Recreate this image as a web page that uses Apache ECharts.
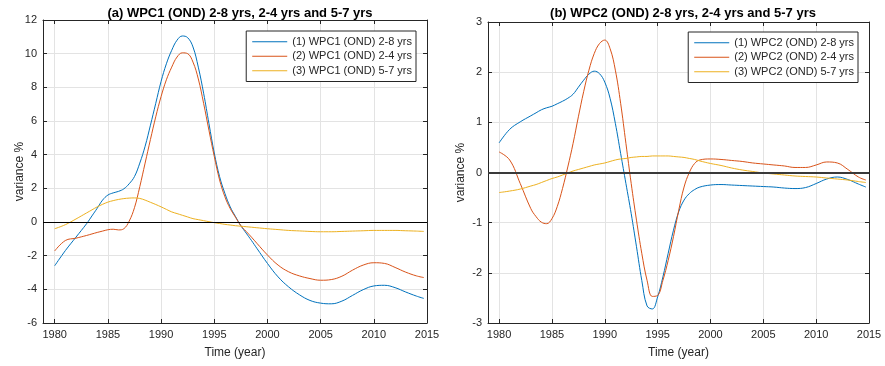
<!DOCTYPE html>
<html>
<head>
<meta charset="utf-8">
<script src="https://cdn.jsdelivr.net/npm/echarts@6/dist/echarts.min.js"></script>
<style>
  html, body { margin: 0; padding: 0; background: #fff; }
  #chart { width: 885px; height: 366px; }
</style>
</head>
<body>
<div id="chart"></div>
<script>
// sample years: yearly at the ends, half-yearly through the big swings
const years = [1980, 1981, 1982,
  1983, 1983.5, 1984, 1984.5, 1985, 1985.5, 1986, 1986.5, 1987, 1987.5,
  1988, 1988.5, 1989, 1989.5, 1990, 1990.5, 1991, 1991.5, 1992, 1992.5,
  1993, 1993.5, 1994, 1994.5, 1995, 1995.5, 1996, 1996.5, 1997, 1997.5,
  1998, 1998.5, 1999,
  2000, 2001, 2002, 2003, 2004, 2005, 2006, 2007, 2008, 2009,
  2010, 2011, 2012, 2013, 2014, 2014.7]
const xTicks = [1980, 1985, 1990, 1995, 2000, 2005, 2010, 2015]

// (a) WPC1
const wpc1_28 = [-2.6, -1.7, -0.9,
  -0.1, 0.36, 0.82, 1.3, 1.6, 1.73, 1.82, 1.97, 2.27, 2.7,
  3.5, 4.5, 5.75, 7.05, 8.35, 9.4, 10.2, 10.8, 11.05, 10.95,
  10.4, 9.2, 7.65, 5.85, 4.1, 2.7, 1.7, 0.9, 0.32, -0.22,
  -0.66, -1.1, -1.56,
  -2.46, -3.26, -3.86, -4.32, -4.66, -4.82, -4.86, -4.7, -4.36, -4.02,
  -3.8, -3.76, -3.9, -4.16, -4.4, -4.54]
const wpc1_24 = [-1.72, -1.1, -0.96,
  -0.8, -0.71, -0.62, -0.54, -0.46, -0.43, -0.47, -0.4, 0.05, 0.85,
  2.1, 3.5, 4.9, 6.25, 7.45, 8.45, 9.2, 9.8, 10.05, 10.0,
  9.5, 8.5, 7.05, 5.45, 3.9, 2.5, 1.5, 0.8, 0.28, -0.22,
  -0.56, -0.9, -1.26,
  -1.96, -2.56, -2.96, -3.2, -3.36, -3.46, -3.42, -3.22, -2.86, -2.56,
  -2.42, -2.46, -2.7, -2.98, -3.2, -3.3]
const wpc1_57 = [-0.4, -0.16, 0.18,
  0.54, 0.72, 0.9, 1.05, 1.18, 1.27, 1.34, 1.39, 1.42, 1.43,
  1.4, 1.3, 1.17, 1.04, 0.9, 0.75, 0.6, 0.5, 0.4, 0.3,
  0.2, 0.14, 0.08, 0.02, -0.04, -0.09, -0.14, -0.18, -0.22, -0.25,
  -0.28, -0.31, -0.34,
  -0.4, -0.45, -0.5, -0.53, -0.56, -0.58, -0.58, -0.56, -0.54, -0.52,
  -0.5, -0.5, -0.5, -0.52, -0.54, -0.56]

// (b) WPC2
const wpc2_28 = [0.59, 0.86, 1.01,
  1.13, 1.19, 1.25, 1.29, 1.32, 1.37, 1.42, 1.48, 1.56, 1.7,
  1.84, 1.96, 2.02, 1.97, 1.8, 1.48, 0.98, 0.38, -0.22, -0.82,
  -1.48, -2.15, -2.66, -2.72, -2.48, -2.08, -1.61, -1.15, -0.78, -0.55,
  -0.42, -0.34, -0.29,
  -0.25, -0.24, -0.25, -0.26, -0.27, -0.28, -0.29, -0.31, -0.32, -0.3,
  -0.22, -0.13, -0.09, -0.14, -0.23, -0.29]
const wpc2_24 = [0.41, 0.25, -0.22,
  -0.72, -0.88, -0.99, -1.02, -0.92, -0.68, -0.32, 0.11, 0.58, 1.11,
  1.61, 2.04, 2.37, 2.57, 2.64, 2.47, 2.04, 1.38, 0.58, -0.22,
  -0.95, -1.61, -2.15, -2.47, -2.45, -2.15, -1.75, -1.28, -0.75, -0.29,
  0.0, 0.18, 0.25,
  0.27, 0.26, 0.24, 0.22, 0.19, 0.17, 0.15, 0.13, 0.1, 0.1,
  0.15, 0.21, 0.19, 0.06, -0.09, -0.15]
const wpc2_57 = [-0.4, -0.37, -0.33,
  -0.27, -0.24, -0.2, -0.16, -0.12, -0.09, -0.05, -0.01, 0.03, 0.06,
  0.09, 0.12, 0.15, 0.17, 0.19, 0.22, 0.25, 0.27, 0.28, 0.3,
  0.31, 0.32, 0.32, 0.33, 0.33, 0.33, 0.33, 0.32, 0.31, 0.3,
  0.28, 0.26, 0.23,
  0.18, 0.14, 0.09, 0.05, 0.02, -0.01, -0.03, -0.05, -0.07, -0.08,
  -0.09, -0.11, -0.13, -0.15, -0.18, -0.2]

const colors = ['#0072BD', '#D95319', '#EDB120']
const axisColor = '#262626'
const font = 'Liberation Sans, Arial, sans-serif'

const pair = vals => years.map((y, i) => [y, vals[i]])

function xAx(gridIndex, min, bottom) {
  return {
    type: 'value', gridIndex: gridIndex, min: min, max: 2015,
    position: bottom ? 'bottom' : 'top',
    name: bottom ? 'Time (year)' : '',
    nameLocation: 'middle', nameGap: 24, nameMoveOverlap: false,
    nameTextStyle: { fontFamily: font, fontSize: 12, color: axisColor },
    axisLine: { show: true, onZero: false, lineStyle: { color: axisColor } },
    axisTick: { show: true, inside: true, length: 4, customValues: xTicks, lineStyle: { color: axisColor } },
    axisLabel: {
      show: bottom, customValues: xTicks, formatter: v => String(v),
      fontFamily: font, fontSize: 11, color: axisColor, margin: 6
    },
    splitLine: { show: bottom, lineStyle: { color: '#e3e3e3' } }
  }
}

function yAx(gridIndex, min, max, interval, left, gap) {
  return {
    type: 'value', gridIndex: gridIndex, min: min, max: max, interval: interval,
    position: left ? 'left' : 'right',
    name: left ? 'variance %' : '',
    nameLocation: 'middle', nameGap: gap, nameMoveOverlap: false,
    nameTextStyle: { fontFamily: font, fontSize: 12, color: axisColor },
    axisLine: { show: true, onZero: false, lineStyle: { color: axisColor } },
    axisTick: { show: true, inside: true, length: 4, lineStyle: { color: axisColor } },
    axisLabel: { show: left, fontFamily: font, fontSize: 11, color: axisColor, margin: 6 },
    splitLine: { show: left, lineStyle: { color: '#e3e3e3' } }
  }
}

function line(name, vals, color, xi, yi, zero) {
  let s = {
    name: name, type: 'line', xAxisIndex: xi, yAxisIndex: yi,
    data: pair(vals), smooth: 0.4, symbol: 'none', silent: true,
    lineStyle: { color: color, width: 1 }, itemStyle: { color: color }
  }
  if (zero) {
    s.markLine = {
      silent: true, symbol: 'none', label: { show: false },
      lineStyle: zero, data: [{ yAxis: 0 }]
    }
  }
  return s
}

const names1 = ['(1) WPC1 (OND) 2-8 yrs', '(2) WPC1 (OND) 2-4 yrs', '(3) WPC1 (OND) 5-7 yrs']
const names2 = ['(1) WPC2 (OND) 2-8 yrs', '(2) WPC2 (OND) 2-4 yrs', '(3) WPC2 (OND) 5-7 yrs']

function legend(names, right, top) {
  return {
    data: names, orient: 'vertical', right: right, top: top,
    icon: 'rect', itemWidth: 35, itemHeight: 1.2, itemGap: 1,
    backgroundColor: '#fff', borderColor: axisColor, borderWidth: 1,
    padding: [4, 4, 4, 6],
    textStyle: { fontFamily: font, fontSize: 11, lineHeight: 13.5, color: axisColor }
  }
}

let option = {
  animation: false,
  backgroundColor: '#fff',
  title: [{
    text: '(a) WPC1 (OND) 2-8 yrs, 2-4 yrs and 5-7 yrs',
    left: 235, top: 2, textAlign: 'center',
    textStyle: { fontFamily: font, fontSize: 13, fontWeight: 'bold', color: '#000' }
  }, {
    text: '(b) WPC2 (OND) 2-8 yrs, 2-4 yrs and 5-7 yrs',
    left: 678, top: 2, textAlign: 'center',
    textStyle: { fontFamily: font, fontSize: 13, fontWeight: 'bold', color: '#000' }
  }],
  legend: [legend(names1, 469, 31), legend(names2, 27, 32)],
  grid: [
    { left: 43, right: 458, top: 20, bottom: 43 },
    { left: 488, right: 16, top: 22, bottom: 43 }
  ],
  xAxis: [xAx(0, 1978.9, true), xAx(0, 1978.9, false), xAx(1, 1978.95, true), xAx(1, 1978.95, false)],
  yAxis: [yAx(0, -6, 12, 2, true, 17), yAx(0, -6, 12, 2, false, 0), yAx(1, -3, 3, 1, true, 21), yAx(1, -3, 3, 1, false, 0)],
  series: [
    line(names1[0], wpc1_28, colors[0], 0, 0, { color: '#000', width: 1.2, type: 'solid' }),
    line(names1[1], wpc1_24, colors[1], 0, 0, null),
    line(names1[2], wpc1_57, colors[2], 0, 0, null),
    line(names2[0], wpc2_28, colors[0], 2, 2, { color: '#3a3a3a', width: 1.8, type: 'solid' }),
    line(names2[1], wpc2_24, colors[1], 2, 2, null),
    line(names2[2], wpc2_57, colors[2], 2, 2, null)
  ]
}

let dom = echarts.init(document.getElementById('chart'))
dom.setOption(option)
</script>
</body>
</html>
